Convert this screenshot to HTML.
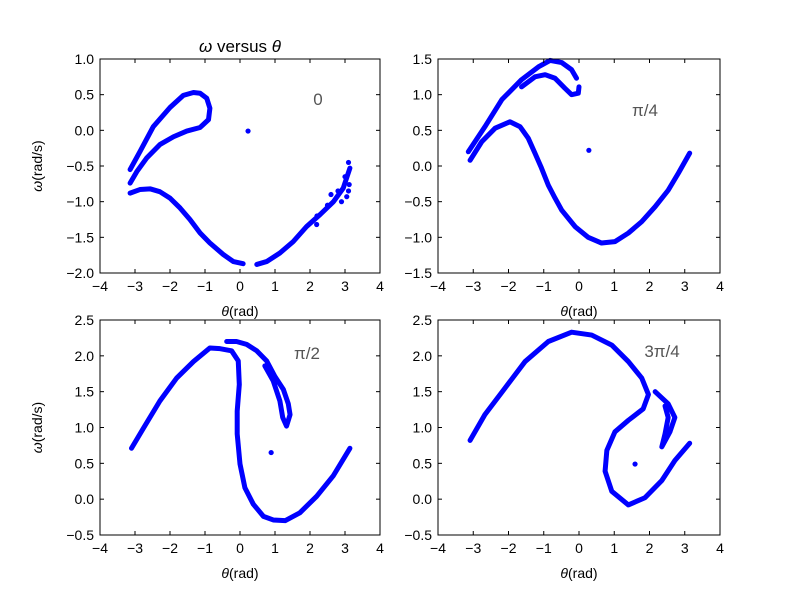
<!DOCTYPE html>
<html><head><meta charset="utf-8"><style>
body{margin:0;background:#fff}
svg{display:block;font-family:"Liberation Sans","DejaVu Sans",sans-serif}
</style></head><body>
<svg id="fig" width="800" height="596" viewBox="0 0 800 596" xmlns="http://www.w3.org/2000/svg">
<rect width="800" height="596" fill="#fff"/>
</svg>
<script>
// ---- data: [theta, omega] pairs ----
const p1Upper=[[-3.14,-0.55],[-2.86,-0.30],[-2.48,0.05],[-2.0,0.32],[-1.62,0.49],[-1.33,0.53],[-1.14,0.52],[-0.95,0.45],[-0.86,0.31],[-0.9,0.15],[-1.14,0.04],[-1.52,-0.01],[-1.9,-0.09],[-2.29,-0.2],[-2.67,-0.39],[-2.95,-0.58],[-3.14,-0.74]];
const p1LowerA=[[-3.14,-0.88],[-2.86,-0.83],[-2.57,-0.82],[-2.29,-0.86],[-2.0,-0.95],[-1.71,-1.09],[-1.43,-1.25],[-1.14,-1.44],[-0.86,-1.58],[-0.48,-1.74],[-0.19,-1.84],[0.09,-1.87]];
const p1LowerB=[[0.48,-1.88],[0.76,-1.84],[1.14,-1.72],[1.52,-1.56],[1.9,-1.35],[2.29,-1.18],[2.67,-1.0],[2.95,-0.81],[3.14,-0.53]];
const p1Extra=[[2.19,-1.32],[2.2,-1.2],[2.5,-1.05],[2.8,-0.85],[3.0,-0.65],[3.1,-0.45],[2.6,-0.9],[2.9,-1.0],[3.05,-0.93],[3.12,-0.76],[3.1,-0.85]];
const p1Single=[[0.23,-0.01]];
const p2Outer=[[-3.14,0.2],[-2.67,0.55],[-2.19,0.93],[-1.63,1.21],[-1.15,1.39],[-0.82,1.48],[-0.49,1.45],[-0.21,1.35],[-0.07,1.23]];
const p2Inner=[[-1.63,1.11],[-1.25,1.25],[-0.96,1.28],[-0.68,1.23],[-0.4,1.09],[-0.21,1.0],[-0.02,1.02],[0,1.11]];
const p2Main=[[-3.09,0.08],[-2.76,0.34],[-2.38,0.53],[-1.96,0.62],[-1.67,0.55],[-1.44,0.39],[-1.25,0.18],[-1.08,-0.01],[-0.87,-0.27],[-0.68,-0.45],[-0.49,-0.62],[-0.11,-0.85],[0.26,-1.0],[0.64,-1.08],[1.02,-1.06],[1.4,-0.94],[1.78,-0.78],[2.16,-0.57],[2.53,-0.34],[2.82,-0.1],[3.14,0.18]];
const p2Single=[[0.28,0.22]];
const p3Left=[[-3.1,0.71],[-2.76,0.99],[-2.29,1.37],[-1.81,1.69],[-1.33,1.92],[-0.86,2.11],[-0.57,2.1],[-0.24,2.07],[-0.05,1.93],[-0.02,1.6],[-0.08,1.23],[-0.08,0.91],[0,0.49],[0.14,0.16],[0.38,-0.07],[0.67,-0.24],[0.95,-0.29],[1.29,-0.3],[1.71,-0.19],[2.19,0.04],[2.67,0.33],[3.14,0.71]];
const p3Right=[[-0.38,2.2],[-0.1,2.2],[0.19,2.16],[0.48,2.07],[0.76,1.93],[1.0,1.71],[1.24,1.53],[1.38,1.33],[1.43,1.18],[1.33,1.02],[1.22,1.14],[1.14,1.37],[0.95,1.65],[0.71,1.86]];
const p3Single=[[0.89,0.65]];
const p4Main=[[-3.09,0.82],[-2.67,1.18],[-2.1,1.55],[-1.53,1.92],[-0.87,2.2],[-0.21,2.33],[0.36,2.29],[0.93,2.15],[1.4,1.92],[1.78,1.69],[1.97,1.46],[1.82,1.26],[1.4,1.1],[1.02,0.94],[0.79,0.68],[0.74,0.39],[0.93,0.11],[1.4,-0.08],[1.87,0.02],[2.35,0.26],[2.72,0.54],[3.14,0.78]];
const p4Fold=[[2.16,1.5],[2.53,1.33],[2.72,1.14],[2.58,0.94],[2.35,0.73],[2.44,0.91],[2.53,1.14],[2.44,1.3]];
const p4Single=[[1.59,0.49]];
const xTicks=[-4,-3,-2,-1,0,1,2,3,4];
const yTicks1=[1.0,0.5,0.0,-0.5,-1.0,-1.5,-2.0];
const yTicks2=[1.5,1.0,0.5,0.0,-0.5,-1.0,-1.5];
const yTicks34=[2.5,2.0,1.5,1.0,0.5,0.0,-0.5];

const NS="http://www.w3.org/2000/svg";
const svg=document.getElementById('fig');
function mk(tag,attrs,parent){const e=document.createElementNS(NS,tag);for(const k in attrs)e.setAttribute(k,attrs[k]);(parent||svg).appendChild(e);return e;}

const panels=[
 {name:'panel-0',x0:100,x1:380,y0:59,y1:273,ymin:-2.0,ymax:1.0,yt:yTicks1,series:[p1Upper,p1LowerA,p1LowerB],pts:[p1Extra,p1Single],label:'0',lx:318,ly:105,ylab:true},
 {name:'panel-pi-4',x0:438,x1:720,y0:59,y1:273,ymin:-1.5,ymax:1.5,yt:yTicks2,series:[p2Outer,p2Inner,p2Main],pts:[p2Single],label:'π/4',lx:645,ly:116,ylab:false},
 {name:'panel-pi-2',x0:100,x1:380,y0:320,y1:535,ymin:-0.5,ymax:2.5,yt:yTicks34,series:[p3Left,p3Right],pts:[p3Single],label:'π/2',lx:307,ly:359,ylab:true},
 {name:'panel-3pi-4',x0:438,x1:720,y0:320,y1:535,ymin:-0.5,ymax:2.5,yt:yTicks34,series:[p4Main,p4Fold],pts:[p4Single],label:'3π/4',lx:662,ly:357,ylab:false}
];

panels.forEach(P=>{
 const g=mk('g',{});
 
 
 const sx=v=>P.x0+(v+4)/8*(P.x1-P.x0);
 const sy=v=>P.y1-(v-P.ymin)/(P.ymax-P.ymin)*(P.y1-P.y0);
 mk('rect',{x:P.x0,y:P.y0,width:P.x1-P.x0,height:P.y1-P.y0,fill:'#fff'},g);
 P.series.forEach(s=>{
  const pl=mk('polyline',{points:s.map(p=>sx(p[0])+','+sy(p[1])).join(' '),fill:'none',stroke:'#0000ff','stroke-width':5,'stroke-linejoin':'round','stroke-linecap':'round'},g);
  
  
 });
 P.pts.forEach(s=>s.forEach(p=>{
  const c=mk('circle',{cx:sx(p[0]),cy:sy(p[1]),r:2.6,fill:'#0000ff'},g);
  
  
 }));
 // frame
 mk('rect',{x:P.x0,y:P.y0,width:P.x1-P.x0,height:P.y1-P.y0,fill:'none',stroke:'#000','stroke-width':1},g);
 xTicks.forEach(t=>{
  const x=sx(t);
  mk('line',{x1:x,y1:P.y1,x2:x,y2:P.y1-4,stroke:'#000'},g);
  mk('line',{x1:x,y1:P.y0,x2:x,y2:P.y0+4,stroke:'#000'},g);
  const tx=mk('text',{x:x,y:P.y1+18,'text-anchor':'middle','font-size':14,fill:'#000'},g);
  tx.textContent=String(t).replace('-','−');
  
  
 });
 P.yt.forEach(t=>{
  const y=sy(t);
  mk('line',{x1:P.x0,y1:y,x2:P.x0+4,y2:y,stroke:'#000'},g);
  mk('line',{x1:P.x1,y1:y,x2:P.x1-4,y2:y,stroke:'#000'},g);
  const ty=mk('text',{x:P.x0-6,y:y+5,'text-anchor':'end','font-size':14,fill:'#000'},g);
  ty.textContent=t.toFixed(1).replace('-','−');
  
  
 });
 const an=mk('text',{x:P.lx,y:P.ly,'text-anchor':'middle','font-size':17,fill:'#555'},g);
 an.textContent=P.label;
 
 
 const xl=mk('text',{x:(P.x0+P.x1)/2,y:P.y1+43,'text-anchor':'middle','font-size':14,fill:'#000'},g);
 xl.innerHTML='<tspan font-style="italic">θ</tspan>(rad)';
 
 
 if(P.ylab){
  const cy=(P.y0+P.y1)/2;
  const yl=mk('text',{x:42,y:cy,'text-anchor':'middle','font-size':14,fill:'#000',transform:'rotate(-90 42 '+cy+')'},g);
  yl.innerHTML='<tspan font-style="italic">ω</tspan>(rad/s)';
  
  
 }
});
const title=mk('text',{x:240,y:52,'text-anchor':'middle','font-size':17,fill:'#000'});
title.innerHTML='<tspan font-style="italic">ω</tspan> versus <tspan font-style="italic">θ</tspan>';


</script>
</body></html>
